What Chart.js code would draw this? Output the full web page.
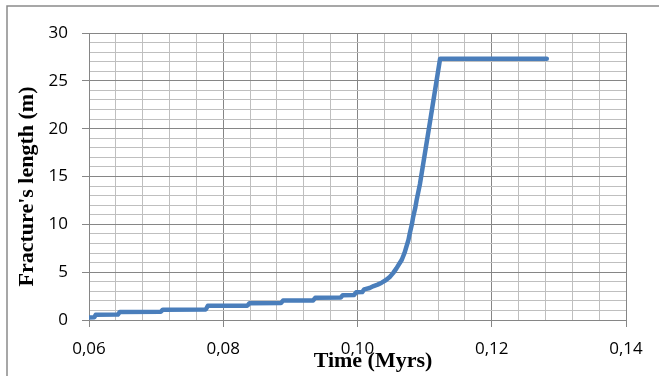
<!DOCTYPE html>
<html><head><meta charset="utf-8">
<script src="https://cdn.jsdelivr.net/npm/chart.js@4"></script>
<style>html,body{margin:0;padding:0;background:#fff;overflow:hidden}canvas{display:block}</style>
</head><body>
<canvas id="c" width="659" height="376"></canvas>
<script>
// Time (Myrs) and fracture length (m)
const timeMyrs = [0.0600,0.0608,0.0610,0.0643,0.0646,0.0707,0.0710,0.0774,0.0777,0.0836,0.0839,0.0886,0.0889,0.0934,0.0937,0.0975,0.0978,0.0995,0.0998,0.1007,0.1010,0.1018,0.1024,0.1030,0.1036,0.1042,0.1048,0.1053,0.1058,0.1062,0.1066,0.1070,0.1073,0.1076,0.1078,0.1081,0.1083,0.1086,0.1088,0.1093,0.1108,0.1123,0.1282];
const fractureLength = [0.25,0.28,0.55,0.57,0.84,0.86,1.08,1.10,1.48,1.50,1.75,1.77,2.03,2.05,2.32,2.34,2.60,2.62,2.90,2.92,3.20,3.35,3.55,3.70,3.90,4.15,4.50,4.90,5.40,5.85,6.30,7.00,7.70,8.40,9.10,10.0,10.8,11.7,12.5,14.2,20.7,27.3,27.3];
const xTitle = 'Time (Myrs)';
const yTitle = "Fracture's length (m)";

const MAJOR = '#868686', MINOR = '#bfbfbf';
const points = timeMyrs.map((t, i) => ({x: t, y: fractureLength[i]}));

const decor = {
  id: 'decor',
  afterDraw(chart) {
    const ctx = chart.ctx;
    ctx.save();
    ctx.strokeStyle = '#8a8a8a';
    ctx.lineWidth = 1.5;
    ctx.beginPath();
    ctx.moveTo(7, 376); ctx.lineTo(7, 6); ctx.lineTo(659, 6);
    ctx.stroke();
    ctx.fillStyle = '#000';
    ctx.font = 'bold 22px "Liberation Serif"';
    ctx.textAlign = 'center';
    ctx.textBaseline = 'alphabetic';
    ctx.fillText(xTitle, 373, 367);
    ctx.translate(33, 186.5);
    ctx.rotate(-Math.PI / 2);
    ctx.fillText(yTitle, 0, 0);
    ctx.restore();
  }
};

new Chart(document.getElementById('c'), {
  type: 'line',
  data: { datasets: [{
    data: points,
    borderColor: '#4a7ebb',
    borderWidth: 4.5,
    pointRadius: 0,
    tension: 0,
    borderCapStyle: 'round',
    borderJoinStyle: 'round',
    fill: false
  }]},
  options: {
    responsive: false,
    devicePixelRatio: 1,
    animation: false,
    layout: { padding: { left: 0, right: 33, top: 33, bottom: 0 } },
    plugins: { legend: { display: false }, tooltip: { enabled: false } },
    scales: {
      x: {
        type: 'linear', min: 0.06, max: 0.14,
        afterFit(s) { s.height = 56; },
        border: { color: MAJOR, width: 1 },
        grid: {
          color: c => c.index % 5 === 0 ? MAJOR : MINOR,
          tickColor: c => c.index % 5 === 0 ? MAJOR : 'rgba(0,0,0,0)',
          tickLength: 7, lineWidth: 1
        },
        ticks: {
          stepSize: 0.004, autoSkip: false, maxRotation: 0, padding: 12,
          color: '#000', font: { family: '"Open Sans"', size: 17 },
          callback: (v, i) => i % 5 === 0 ? v.toFixed(2).replace('.', ',') : ''
        }
      },
      y: {
        min: 0, max: 30,
        afterFit(s) { s.width = 89; },
        border: { color: MAJOR, width: 1 },
        grid: {
          color: c => c.index % 5 === 0 ? MAJOR : MINOR,
          tickColor: c => c.index % 5 === 0 ? MAJOR : 'rgba(0,0,0,0)',
          tickLength: 7, lineWidth: 1
        },
        ticks: {
          stepSize: 1, autoSkip: false, padding: 14,
          color: '#000', font: { family: '"Open Sans"', size: 17 },
          callback: (v, i) => v % 5 === 0 ? String(v) : ''
        }
      }
    }
  },
  plugins: [decor]
});
</script>
</body></html>
